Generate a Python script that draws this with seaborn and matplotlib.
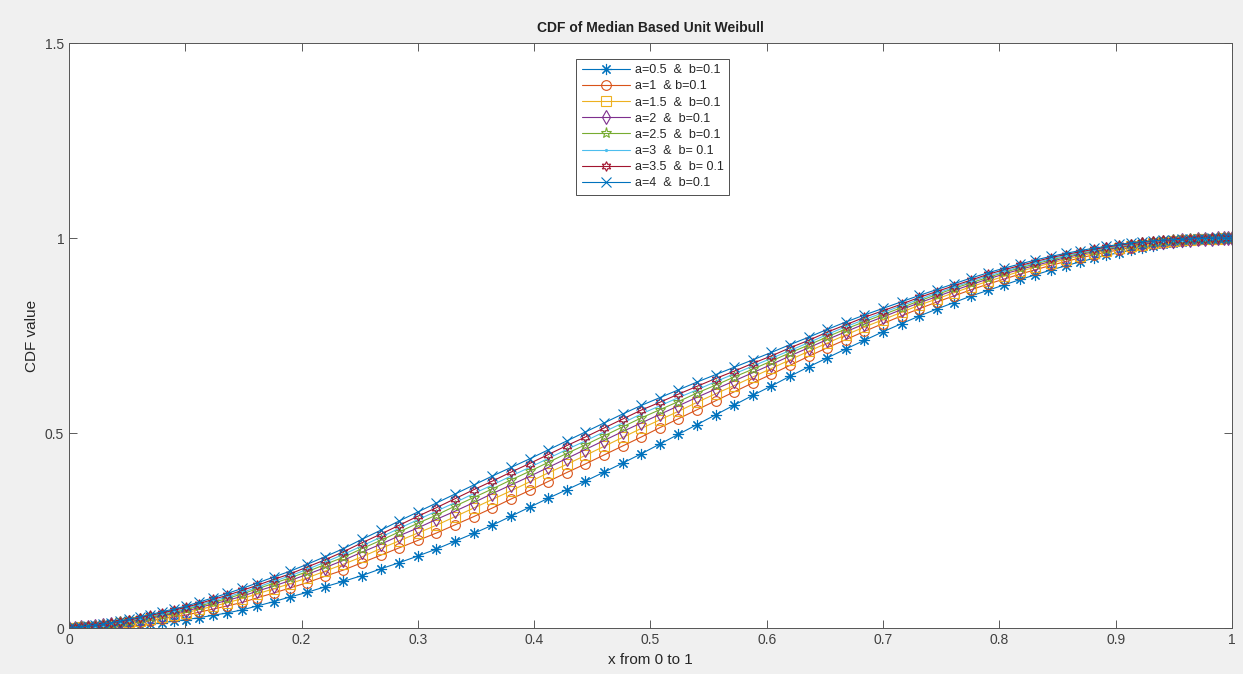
import numpy as np
import pandas as pd
import seaborn as sns
import matplotlib.pyplot as plt

# x positions of the plotted points (denser near 0 and 1)
x = [0.000, 0.005, 0.010, 0.016, 0.022, 0.029, 0.036, 0.044, 0.052, 0.061,
     0.070, 0.080, 0.090, 0.101, 0.112, 0.124, 0.136, 0.149, 0.162, 0.176,
     0.190, 0.205, 0.220, 0.236, 0.252, 0.268, 0.284, 0.300, 0.316, 0.332,
     0.348, 0.364, 0.380, 0.396, 0.412, 0.428, 0.444, 0.460, 0.476, 0.492,
     0.508, 0.524, 0.540, 0.556, 0.572, 0.588, 0.604, 0.620, 0.636, 0.652,
     0.668, 0.684, 0.700, 0.716, 0.731, 0.746, 0.761, 0.776, 0.790, 0.804,
     0.818, 0.831, 0.844, 0.857, 0.869, 0.881, 0.892, 0.903, 0.913, 0.923,
     0.932, 0.941, 0.949, 0.957, 0.964, 0.971, 0.977, 0.983, 0.988, 0.993,
     0.997, 1.000]

# CDF values, one list per curve
cdf_a05 = [0.000, 0.000, 0.001, 0.001, 0.001, 0.002, 0.003, 0.005, 0.006, 0.008,
           0.011, 0.014, 0.018, 0.022, 0.027, 0.033, 0.039, 0.047, 0.057, 0.068,
           0.080, 0.092, 0.106, 0.120, 0.135, 0.152, 0.168, 0.185, 0.203, 0.223,
           0.243, 0.264, 0.287, 0.310, 0.333, 0.355, 0.377, 0.400, 0.423, 0.447,
           0.472, 0.497, 0.522, 0.547, 0.572, 0.597, 0.621, 0.646, 0.670, 0.693,
           0.716, 0.738, 0.760, 0.781, 0.800, 0.818, 0.835, 0.852, 0.866, 0.880,
           0.894, 0.906, 0.918, 0.929, 0.939, 0.948, 0.956, 0.963, 0.969, 0.975,
           0.980, 0.984, 0.988, 0.991, 0.993, 0.995, 0.997, 0.998, 0.999, 1.000,
           1.000, 1.000]
cdf_a1 = [0.000, 0.000, 0.002, 0.002, 0.003, 0.005, 0.007, 0.010, 0.012, 0.015,
          0.019, 0.024, 0.029, 0.034, 0.041, 0.049, 0.057, 0.066, 0.078, 0.090,
          0.103, 0.117, 0.133, 0.149, 0.168, 0.187, 0.206, 0.225, 0.244, 0.265,
          0.286, 0.308, 0.331, 0.353, 0.376, 0.399, 0.421, 0.444, 0.467, 0.490,
          0.514, 0.537, 0.560, 0.583, 0.606, 0.629, 0.651, 0.674, 0.697, 0.719,
          0.740, 0.761, 0.781, 0.801, 0.819, 0.836, 0.852, 0.868, 0.882, 0.895,
          0.908, 0.919, 0.930, 0.940, 0.949, 0.957, 0.964, 0.970, 0.976, 0.981,
          0.985, 0.988, 0.991, 0.993, 0.995, 0.996, 0.998, 0.999, 0.999, 1.000,
          1.000, 1.000]
cdf_a15 = [0.000, 0.001, 0.002, 0.003, 0.004, 0.006, 0.009, 0.012, 0.015, 0.019,
           0.024, 0.029, 0.034, 0.040, 0.048, 0.056, 0.065, 0.076, 0.088, 0.101,
           0.114, 0.129, 0.146, 0.164, 0.183, 0.204, 0.224, 0.244, 0.264, 0.286,
           0.308, 0.330, 0.352, 0.375, 0.398, 0.420, 0.443, 0.466, 0.489, 0.512,
           0.534, 0.556, 0.579, 0.601, 0.622, 0.644, 0.666, 0.688, 0.710, 0.731,
           0.752, 0.772, 0.791, 0.810, 0.828, 0.844, 0.860, 0.876, 0.889, 0.902,
           0.915, 0.926, 0.936, 0.946, 0.954, 0.962, 0.968, 0.974, 0.979, 0.983,
           0.987, 0.990, 0.992, 0.994, 0.996, 0.997, 0.998, 0.999, 0.999, 1.000,
           1.000, 1.000]
cdf_a2 = [0.000, 0.001, 0.002, 0.004, 0.005, 0.007, 0.010, 0.013, 0.017, 0.021,
          0.026, 0.032, 0.038, 0.044, 0.053, 0.062, 0.071, 0.082, 0.095, 0.108,
          0.122, 0.138, 0.155, 0.174, 0.195, 0.215, 0.237, 0.257, 0.279, 0.300,
          0.322, 0.345, 0.367, 0.389, 0.412, 0.435, 0.458, 0.481, 0.504, 0.526,
          0.548, 0.570, 0.592, 0.613, 0.634, 0.655, 0.676, 0.698, 0.719, 0.740,
          0.760, 0.780, 0.798, 0.817, 0.834, 0.850, 0.866, 0.881, 0.895, 0.908,
          0.920, 0.930, 0.940, 0.950, 0.958, 0.965, 0.971, 0.976, 0.981, 0.985,
          0.988, 0.991, 0.993, 0.995, 0.996, 0.998, 0.998, 0.999, 1.000, 1.000,
          1.000, 1.000]
cdf_a25 = [0.000, 0.001, 0.002, 0.004, 0.005, 0.008, 0.011, 0.015, 0.019, 0.024,
           0.029, 0.035, 0.041, 0.048, 0.057, 0.066, 0.076, 0.088, 0.101, 0.115,
           0.129, 0.145, 0.163, 0.182, 0.204, 0.225, 0.247, 0.269, 0.290, 0.313,
           0.335, 0.357, 0.380, 0.402, 0.425, 0.448, 0.470, 0.493, 0.516, 0.539,
           0.560, 0.581, 0.603, 0.623, 0.644, 0.664, 0.685, 0.706, 0.726, 0.747,
           0.767, 0.786, 0.804, 0.822, 0.839, 0.855, 0.871, 0.886, 0.899, 0.912,
           0.924, 0.934, 0.944, 0.953, 0.961, 0.967, 0.973, 0.979, 0.983, 0.987,
           0.990, 0.992, 0.994, 0.995, 0.997, 0.998, 0.998, 0.999, 1.000, 1.000,
           1.000, 1.000]
cdf_a3 = [0.000, 0.001, 0.003, 0.004, 0.006, 0.009, 0.012, 0.016, 0.020, 0.025,
          0.031, 0.037, 0.043, 0.051, 0.060, 0.070, 0.080, 0.092, 0.105, 0.120,
          0.134, 0.151, 0.169, 0.189, 0.211, 0.233, 0.256, 0.278, 0.300, 0.322,
          0.345, 0.367, 0.390, 0.412, 0.435, 0.458, 0.480, 0.503, 0.526, 0.549,
          0.570, 0.591, 0.611, 0.632, 0.652, 0.672, 0.692, 0.712, 0.732, 0.753,
          0.773, 0.791, 0.809, 0.827, 0.843, 0.859, 0.874, 0.890, 0.903, 0.915,
          0.927, 0.937, 0.947, 0.955, 0.963, 0.969, 0.975, 0.980, 0.985, 0.988,
          0.991, 0.993, 0.995, 0.996, 0.997, 0.998, 0.999, 1.000, 1.000, 1.000,
          1.000, 1.000]
cdf_a35 = [0.000, 0.001, 0.003, 0.005, 0.006, 0.009, 0.013, 0.017, 0.021, 0.027,
           0.033, 0.039, 0.046, 0.054, 0.063, 0.074, 0.084, 0.097, 0.110, 0.125,
           0.139, 0.157, 0.175, 0.196, 0.219, 0.241, 0.264, 0.287, 0.309, 0.332,
           0.355, 0.377, 0.400, 0.422, 0.445, 0.468, 0.490, 0.513, 0.536, 0.559,
           0.579, 0.600, 0.620, 0.640, 0.659, 0.679, 0.698, 0.719, 0.738, 0.759,
           0.778, 0.797, 0.814, 0.831, 0.848, 0.863, 0.878, 0.893, 0.907, 0.919,
           0.930, 0.940, 0.950, 0.958, 0.965, 0.971, 0.977, 0.982, 0.986, 0.989,
           0.992, 0.994, 0.995, 0.996, 0.997, 0.999, 0.999, 1.000, 1.000, 1.000,
           1.000, 1.000]
cdf_a4 = [0.000, 0.001, 0.003, 0.005, 0.007, 0.010, 0.014, 0.018, 0.023, 0.029,
          0.035, 0.042, 0.049, 0.057, 0.067, 0.078, 0.089, 0.102, 0.116, 0.131,
          0.146, 0.164, 0.183, 0.204, 0.228, 0.251, 0.275, 0.298, 0.321, 0.344,
          0.367, 0.390, 0.412, 0.434, 0.457, 0.480, 0.503, 0.526, 0.549, 0.571,
          0.591, 0.611, 0.631, 0.650, 0.669, 0.688, 0.707, 0.727, 0.746, 0.766,
          0.785, 0.803, 0.820, 0.837, 0.853, 0.868, 0.883, 0.898, 0.911, 0.923,
          0.934, 0.944, 0.953, 0.961, 0.968, 0.974, 0.979, 0.984, 0.988, 0.991,
          0.993, 0.995, 0.996, 0.997, 0.998, 0.999, 0.999, 1.000, 1.000, 1.000,
          1.000, 1.000]

labels = ['a=0.5  &  b=0.1', 'a=1  & b=0.1', 'a=1.5  &  b=0.1', 'a=2  &  b=0.1',
          'a=2.5  &  b=0.1', 'a=3  &  b= 0.1', 'a=3.5  &  b= 0.1', 'a=4  &  b=0.1']
series = [cdf_a05, cdf_a1, cdf_a15, cdf_a2, cdf_a25, cdf_a3, cdf_a35, cdf_a4]

# matlab default colour order and marker per line
colors = ['#0072BD', '#D95319', '#EDB120', '#7E2F8E', '#77AC30', '#4DBEEE', '#A2142F', '#0072BD']
markers = [(8, 2, 0), 'o', 's', 'd', '*', '.', (6, 1, 0), 'x']
msizes = [8, 7, 6.5, 7, 8, 3, 7, 7]

sns.set_style('white')
plt.rcParams['font.family'] = ['Liberation Sans', 'DejaVu Sans']

fig = plt.figure(figsize=(12.43, 6.74), dpi=100, facecolor='#f0f0f0')
ax = fig.add_axes([0.0555, 0.068, 0.9356, 0.868])
ax.set_facecolor('white')

for lab, vals, col, mk, ms in zip(labels, series, colors, markers, msizes):
    sns.lineplot(x=x, y=vals, ax=ax, label=lab, color=col, marker=mk,
                 markersize=ms, markerfacecolor='none', markeredgecolor=col,
                 markeredgewidth=0.8, linewidth=0.8)

ax.set_xlim(0, 1)
ax.set_ylim(0, 1.5)
ax.set_xticks(np.arange(0, 1.01, 0.1))
ax.set_xticklabels(['0', '0.1', '0.2', '0.3', '0.4', '0.5', '0.6', '0.7', '0.8', '0.9', '1'])
ax.set_yticks([0, 0.5, 1, 1.5])
ax.set_yticklabels(['0', '0.5', '1', '1.5'])
ax.tick_params(direction='in', length=6, width=0.6, colors='#404040',
               labelsize=10, top=True, right=True, bottom=True, left=True)
for sp in ax.spines.values():
    sp.set_visible(True)
    sp.set_color('#555555')
    sp.set_linewidth(0.7)

ax.set_title('CDF of Median Based Unit Weibull', fontsize=10, fontweight='bold', pad=8, color='#222222')
ax.set_xlabel('x from 0 to 1', fontsize=11, color='#262626', labelpad=4)
ax.set_ylabel('CDF value', fontsize=11, color='#262626', labelpad=4)

leg = ax.legend(loc='upper left', bbox_to_anchor=(0.431, 0.984), fontsize=9,
                handlelength=3.8, labelspacing=0.33, borderpad=0.45, handletextpad=0.4,
                fancybox=False, framealpha=1, edgecolor='#333333')
leg.get_frame().set_linewidth(0.6)

fig.savefig('out.png', dpi=100, facecolor=fig.get_facecolor())
